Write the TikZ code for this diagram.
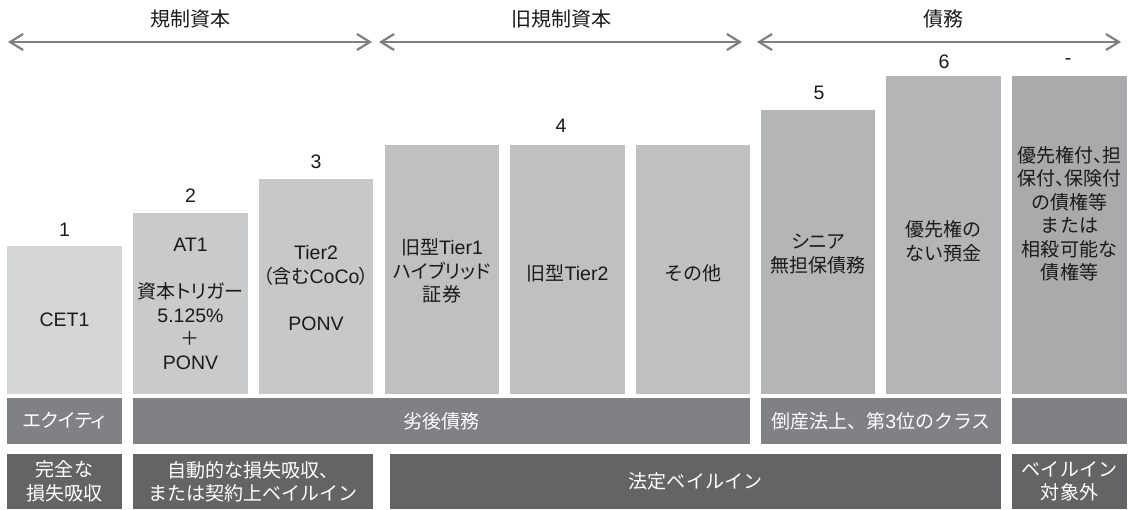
\documentclass[tikz,border=0pt]{standalone}
\usepackage{fontspec}
\setmainfont{Liberation Sans}
\newfontfamily\cjk[Scale=0.975]{Noto Sans CJK JP}
\newfontfamily\cjkp[Scale=0.975,RawFeature=+palt]{Noto Sans CJK JP}
\newcommand\J[1]{{\cjk #1}}
\newcommand\JP[1]{{\cjkp #1}}
\usetikzlibrary{arrows.meta}
\definecolor{cA}{HTML}{D5D6D8}
\definecolor{cB}{HTML}{C9CACC}
\definecolor{cC}{HTML}{C7C8CA}
\definecolor{cD}{HTML}{BFC0C2}
\definecolor{cE}{HTML}{B4B5B7}
\definecolor{cF}{HTML}{A9AAAC}
\definecolor{rowA}{HTML}{808184}
\definecolor{rowB}{HTML}{646466}
\definecolor{arrowgray}{HTML}{7F7F7F}
\definecolor{ink}{HTML}{1A1A1A}
\begin{document}
\begin{tikzpicture}[x=1pt,y=-1pt,
  lbl/.style={font=\fontsize{19.5}{23.5}\selectfont, align=center, inner sep=0pt, text=ink},
  wlbl/.style={lbl, text=white},
  head/.style={font=\fontsize{20.5}{24}\selectfont, inner sep=0pt, text=ink},
  rng/.style={draw=arrowgray, line width=2.2pt,
    {Straight Barb[length=13pt,width=16pt]}-{Straight Barb[length=13pt,width=16pt]}},
]
\useasboundingbox (0,0) rectangle (1131,509);
% range arrows
\coordinate (a1l) at (8,42);   \coordinate (a1r) at (372,42);
\coordinate (a2l) at (379,42); \coordinate (a2r) at (742,42);
\coordinate (a3l) at (757,42); \coordinate (a3r) at (1121,42);
\draw[rng] (a1l) -- (a1r);
\draw[rng] (a2l) -- (a2r);
\draw[rng] (a3l) -- (a3r);
\node[head] (h1) at (190.5,18.5) {\J{規制資本}};
\node[head] (h2) at (561.5,18.5) {\J{旧規制資本}};
\node[head] (h3) at (943.5,18.5) {\J{債務}};
% columns
\fill[cA] (7,246) rectangle (122,394);
\fill[cB] (133,213) rectangle (248,394);
\fill[cC] (259,179) rectangle (373,394);
\fill[cD] (385,145) rectangle (499,394);
\fill[cD] (510,145) rectangle (625,394);
\fill[cD] (636,145) rectangle (750,394);
\fill[cE] (761,110) rectangle (875,394);
\fill[cE] (886,76) rectangle (1001,394);
\fill[cF] (1012,76) rectangle (1127,394);
% rank numbers
\node[lbl] (n1) at (64.5,230) {1};
\node[lbl] (n2) at (190.5,196) {2};
\node[lbl] (n3) at (316,162) {3};
\node[lbl] (n4) at (561,126) {4};
\node[lbl] (n5) at (819,93) {5};
\node[lbl] (n6) at (944,62) {6};
\node[lbl] (n7) at (1068,62) {-};
% column texts
\node[lbl] (c1) at (64.5,320) {CET1};
\node[lbl] (c2) at (190.5,304) {AT1\\[23.5pt]\JP{資本トリガー}\\5.125\%\\\J{＋}\\PONV};
\node[lbl] (c3) at (316,288) {Tier2\\\JP{（含む}CoCo\JP{）}\\[23.5pt]PONV};
\node[lbl] (c4a) at (442,271) {\J{旧型}Tier1\\\JP{ハイブリッド}\\\J{証券}};
\node[lbl] (c4b) at (567.5,273) {\J{旧型}Tier2};
\node[lbl] (c4c) at (693,273) {\J{その他}};
\node[lbl] (c5) at (818,254) {\JP{シニア}\\\J{無担保債務}};
\node[lbl] (c6) at (943.5,241) {\J{優先権の}\\\J{ない預金}};
\node[lbl] (c7) at (1069.5,214) {\JP{優先権付、担}\\\JP{保付、保険付}\\\J{の債権等}\\\J{または}\\\J{相殺可能な}\\\J{債権等}};
% row 2
\fill[rowA] (7,398) rectangle (122,444);
\fill[rowA] (133,398) rectangle (750,444);
\fill[rowA] (761,398) rectangle (1001,444);
\fill[rowA] (1012,398) rectangle (1127,444);
\node[wlbl] (r2a) at (64.5,421) {\JP{エクイティ}};
\node[wlbl] (r2b) at (441.5,421) {\J{劣後債務}};
\node[wlbl] (r2c) at (881,421) {\J{倒産法上、第}3\J{位のクラス}};
% row 3
\fill[rowB] (7,454) rectangle (122,509);
\fill[rowB] (133,454) rectangle (373,509);
\fill[rowB] (390,454) rectangle (1001,509);
\fill[rowB] (1012,454) rectangle (1127,509);
\node[wlbl] (r3a) at (64.5,481.5) {\J{完全な}\\\J{損失吸収}};
\node[wlbl] (r3b) at (253,481.5) {\J{自動的な損失吸収、}\\\J{または契約上ベイルイン}};
\node[wlbl] (r3c) at (695.5,481.5) {\J{法定ベイルイン}};
\node[wlbl] (r3d) at (1069.5,481.5) {\J{ベイルイン}\\\J{対象外}};
\end{tikzpicture}
\end{document}
